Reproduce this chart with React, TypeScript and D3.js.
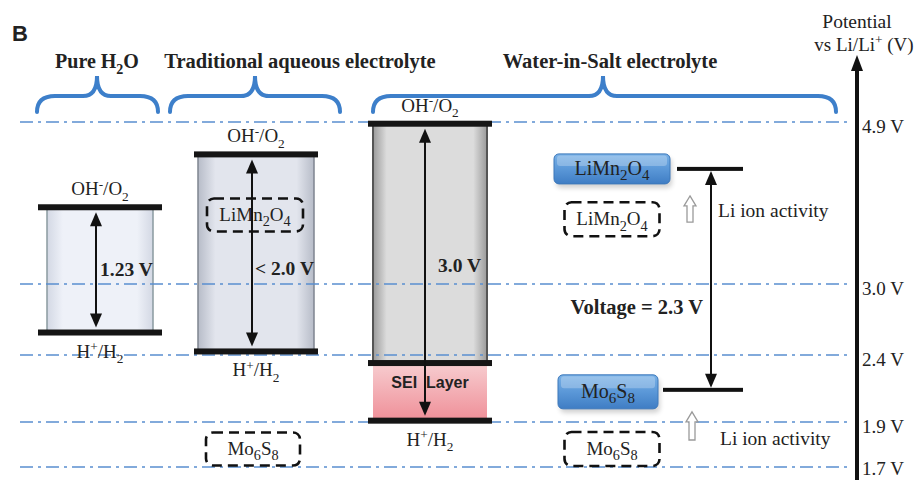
import React from "react";
import * as d3 from "d3";

// ---- data ----
const axisTicks = [4.9, 3.0, 2.4, 1.9, 1.7];
const axisTickLabels = ["4.9 V", "3.0 V", "2.4 V", "1.9 V", "1.7 V"];
const groupTitles = ["Pure H_2O", "Traditional aqueous electrolyte", "Water-in-Salt electrolyte"];
const windowTops = [3.9, 4.52, 4.88]; // OH-/O2 level (V)
const windowBottoms = [2.59, 2.43, 1.91]; // H+/H2 level (V)
const windowLabels = ["1.23 V", "< 2.0 V", "3.0 V"];
const seiTop = 2.34;
const cathodeLevel = 4.35; // LiMn2O4 in WiS
const anodeLevel = 2.14; // Mo6S8 in WiS
const cathodeOrigTrad = 3.81;
const cathodeOrigWis = 3.76;
const anodeOrig = 1.78;
const cellVoltageLabel = "Voltage = 2.3 V";

// ---- layout ----
const W = 916;
const H = 480;
const y = d3.scaleLinear().domain([1.7, 1.9, 2.4, 3.0, 4.9]).range([467, 422, 355, 284, 122]);
const colX = [100, 256, 430];
const boxHalf = [53, 58, 57];
const barHalf = [62, 62, 62];
const serif = "'Liberation Serif', 'Times New Roman', serif";
const sans = "'Liberation Sans', Arial, sans-serif";
const blueLine = "#5a8fd0";
const braceBlue = "#3d7fca";

function tokens(s: string) {
  const out: { t: string; k: "n" | "sub" | "sup" }[] = [];
  let i = 0;
  while (i < s.length) {
    const c = s[i];
    if (c === "_" || c === "^") {
      out.push({ t: s[i + 1], k: c === "_" ? "sub" : "sup" });
      i += 2;
    } else {
      if (out.length && out[out.length - 1].k === "n") out[out.length - 1].t += c;
      else out.push({ t: c, k: "n" });
      i++;
    }
  }
  return out;
}

function Chem({ s, x, yy, fs, anchor = "middle", weight = "normal", family = serif, sc = 0.72 }: any) {
  let shift = 0;
  const toks = tokens(s);
  return (
    <text x={x} y={yy} fontSize={fs} fontFamily={family} fontWeight={weight} textAnchor={anchor} fill="#222">
      {toks.map((tk, i) => {
        const target = tk.k === "sub" ? fs * 0.28 : tk.k === "sup" ? -fs * 0.35 : 0;
        const dy = target - shift;
        shift = target;
        return (
          <tspan key={i} dy={dy} fontSize={tk.k === "n" ? fs : fs * sc}>
            {tk.t}
          </tspan>
        );
      })}
    </text>
  );
}

function bracePath(x0: number, x1: number, xc: number) {
  const yb = 112, yh = 96, yt = 76;
  const p = d3.path();
  p.moveTo(x0, yb);
  p.quadraticCurveTo(x0, yh, x0 + 18, yh);
  p.lineTo(xc - 14, yh);
  p.quadraticCurveTo(xc, yh, xc, yt);
  p.quadraticCurveTo(xc, yh, xc + 14, yh);
  p.lineTo(x1 - 18, yh);
  p.quadraticCurveTo(x1, yh, x1, yb);
  return p.toString();
}

function DoubleArrow({ x, y1, y2, up = true, down = true }: any) {
  const hw = 6, hh = 14;
  return (
    <g>
      <line x1={x} x2={x} y1={y1 + (up ? hh - 2 : 0)} y2={y2 - (down ? hh - 2 : 0)} stroke="#111" strokeWidth={2} />
      {up && <path d={`M${x},${y1} L${x - hw},${y1 + hh} L${x + hw},${y1 + hh} Z`} fill="#111" />}
      {down && <path d={`M${x},${y2} L${x - hw},${y2 - hh} L${x + hw},${y2 - hh} Z`} fill="#111" />}
    </g>
  );
}

function HollowUp({ x, yTop, yBot }: any) {
  const sw = 3, hw = 6, hh = 10;
  return (
    <path
      d={`M${x},${yTop} L${x + hw},${yTop + hh} L${x + sw},${yTop + hh} L${x + sw},${yBot} L${x - sw},${yBot} L${x - sw},${yTop + hh} L${x - hw},${yTop + hh} Z`}
      fill="#fff"
      stroke="#9a9a9a"
      strokeWidth={1.3}
    />
  );
}

function DashedBox({ cx, cy, w, h, label }: any) {
  return (
    <g>
      <rect x={cx - w / 2} y={cy - h / 2} width={w} height={h} rx={7} fill="none" stroke="#111" strokeWidth={2.6} strokeDasharray="10,6" />
      <Chem s={label} x={cx} yy={cy + 6} fs={19} sc={0.75} />
    </g>
  );
}

function BlueBox({ cx, cy, w, h, label }: any) {
  return (
    <g>
      <rect x={cx - w / 2 + 2} y={cy - h / 2 + 4} width={w} height={h} rx={5} fill="#000" opacity={0.18} filter="url(#blur)" />
      <rect x={cx - w / 2} y={cy - h / 2} width={w} height={h} rx={5} fill="url(#blueGrad)" stroke="#3c78bb" strokeWidth={1} />
      <rect x={cx - w / 2 + 3} y={cy - h / 2 + 1.5} width={w - 6} height={h * 0.35} rx={3} fill="#fff" opacity={0.25} />
      <Chem s={label} x={cx} yy={cy + 6} fs={20} sc={0.75} />
    </g>
  );
}

export default function App() {
  const lineX0 = 20, lineX1 = 848;
  const axisX = 857;
  const wi = 2;
  return (
    <svg width={W} height={H} style={{ position: "absolute", left: 0, top: 0, background: "#fff" }}>
      <defs>
        <linearGradient id="g0" x1="0" x2="1" y1="0" y2="0">
          <stop offset="0" stopColor="#d3d8e4" />
          <stop offset="0.15" stopColor="#eef1f8" />
          <stop offset="0.85" stopColor="#eef1f8" />
          <stop offset="1" stopColor="#d3d8e4" />
        </linearGradient>
        <linearGradient id="g1" x1="0" x2="1" y1="0" y2="0">
          <stop offset="0" stopColor="#b7bcc8" />
          <stop offset="0.15" stopColor="#e2e5ed" />
          <stop offset="0.85" stopColor="#e2e5ed" />
          <stop offset="1" stopColor="#b7bcc8" />
        </linearGradient>
        <linearGradient id="g2" x1="0" x2="1" y1="0" y2="0">
          <stop offset="0" stopColor="#9a9a9a" />
          <stop offset="0.12" stopColor="#dcdcdc" />
          <stop offset="0.88" stopColor="#dcdcdc" />
          <stop offset="1" stopColor="#9a9a9a" />
        </linearGradient>
        <linearGradient id="sei" x1="0" x2="0" y1="0" y2="1">
          <stop offset="0" stopColor="#f7cdd0" />
          <stop offset="1" stopColor="#ef8f98" />
        </linearGradient>
        <linearGradient id="blueGrad" x1="0" x2="0" y1="0" y2="1">
          <stop offset="0" stopColor="#79b1e6" />
          <stop offset="0.5" stopColor="#5b98d8" />
          <stop offset="1" stopColor="#3f7dc4" />
        </linearGradient>
        <filter id="blur" x="-20%" y="-20%" width="140%" height="160%">
          <feGaussianBlur stdDeviation="2.5" />
        </filter>
      </defs>

      {/* panel letter */}
      <text x={12} y={41} fontFamily={sans} fontWeight="bold" fontSize={22} fill="#222">B</text>

      {/* group titles */}
      <Chem s={groupTitles[0]} x={97} yy={68} fs={20} weight="bold" sc={0.7} />
      <Chem s={groupTitles[1]} x={300} yy={68} fs={20.5} weight="bold" />
      <Chem s={groupTitles[2]} x={610} yy={68} fs={20.5} weight="bold" />

      {/* braces */}
      <g fill="none" stroke={braceBlue} strokeWidth={4} strokeLinecap="round">
        <path d={bracePath(37, 158, 97)} />
        <path d={bracePath(170, 340, 255)} />
        <path d={bracePath(373, 836, 603)} />
      </g>

      {/* stability windows */}
      {colX.map((cx, i) => {
        const top = y(windowTops[i]);
        const bot = y(i === wi ? seiTop : windowBottoms[i]);
        return (
          <rect key={"b" + i} x={cx - boxHalf[i]} y={top} width={boxHalf[i] * 2} height={bot - top}
            fill={`url(#g${i})`} stroke={i === 0 ? "#8a9aa0" : i === 1 ? "#7f8590" : "#555"} strokeWidth={i === 2 ? 2 : 1.5} />
        );
      })}
      {/* SEI layer */}
      <rect x={colX[wi] - boxHalf[wi]} y={y(seiTop)} width={boxHalf[wi] * 2} height={y(windowBottoms[wi]) - y(seiTop)} fill="url(#sei)" />

      {/* dash-dot reference lines */}
      {axisTicks.map((t, i) => (
        <line key={"l" + i} x1={lineX0} x2={lineX1} y1={y(t)} y2={y(t)} stroke={blueLine} strokeWidth={1.5} strokeDasharray="13,5,3,5" />
      ))}

      {/* level bars */}
      {colX.map((cx, i) => (
        <g key={"bars" + i}>
          <rect x={cx - barHalf[i]} y={y(windowTops[i]) - 3} width={barHalf[i] * 2} height={6} fill="#151515" />
          <rect x={cx - barHalf[i]} y={y(windowBottoms[i]) - 3} width={barHalf[i] * 2} height={6} fill="#151515" />
        </g>
      ))}
      <rect x={colX[wi] - barHalf[wi]} y={y(seiTop) - 3} width={barHalf[wi] * 2} height={6} fill="#151515" />

      {/* redox labels */}
      {colX.map((cx, i) => (
        <g key={"lab" + i}>
          <Chem s="OH^-/O_2" x={cx} yy={y(windowTops[i]) - 12} fs={19} sc={0.7} />
          <Chem s="H^+/H_2" x={cx} yy={y(windowBottoms[i]) + 25} fs={19} sc={0.7} />
        </g>
      ))}

      {/* dashed electrode boxes (traditional) */}
      <DashedBox cx={255} cy={y(cathodeOrigTrad)} w={96} h={33} label="LiMn_2O_4" />
      <DashedBox cx={253} cy={y(anodeOrig)} w={94} h={33} label="Mo_6S_8" />

      {/* window arrows */}
      <DoubleArrow x={96} y1={y(windowTops[0]) + 5} y2={y(windowBottoms[0]) - 5} />
      <DoubleArrow x={252} y1={y(windowTops[1]) + 5} y2={y(windowBottoms[1]) - 5} />
      <DoubleArrow x={425} y1={y(windowTops[2]) + 5} y2={y(windowBottoms[2]) - 5} />
      <text x={100} y={276} fontFamily={serif} fontWeight="bold" fontSize={19.5} fill="#222">{windowLabels[0]}</text>
      <text x={255} y={275} fontFamily={serif} fontWeight="bold" fontSize={19.5} fill="#222">{windowLabels[1]}</text>
      <text x={438} y={272} fontFamily={serif} fontWeight="bold" fontSize={19.5} fill="#222">{windowLabels[2]}</text>
      <text x={colX[wi]} y={y(2.2) + 6} fontFamily={sans} fontWeight="bold" fontSize={16} fill="#222" textAnchor="middle" xmlSpace="preserve">{"SEI  Layer"}</text>

      {/* WiS electrodes */}
      <BlueBox cx={612} cy={y(cathodeLevel) + 0} w={116} h={30} label="LiMn_2O_4" />
      <BlueBox cx={608} cy={y(anodeLevel) + 2} w={100} h={34} label="Mo_6S_8" />
      <DashedBox cx={612} cy={y(cathodeOrigWis)} w={95} h={34} label="LiMn_2O_4" />
      <DashedBox cx={612} cy={y(anodeOrig)} w={95} h={34} label="Mo_6S_8" />
      <rect x={677} y={y(cathodeLevel) - 2} width={66} height={4} fill="#111" />
      <rect x={663} y={y(anodeLevel) - 2} width={80} height={4} fill="#111" />
      <DoubleArrow x={711} y1={y(cathodeLevel) + 2} y2={y(anodeLevel) - 2} />
      <text x={703} y={314} fontFamily={serif} fontWeight="bold" fontSize={20.5} fill="#222" textAnchor="end">{cellVoltageLabel}</text>
      <HollowUp x={690} yTop={y(cathodeLevel) + 27} yBot={y(cathodeOrigWis) + 3} />
      <HollowUp x={692} yTop={y(anodeLevel) + 22} yBot={y(anodeOrig) - 9} />
      <text x={718} y={217} fontFamily={serif} fontSize={19.5} fill="#222">Li ion activity</text>
      <text x={720} y={445} fontFamily={serif} fontSize={19.5} fill="#222">Li ion activity</text>

      {/* potential axis */}
      <line x1={axisX} x2={axisX} y1={66} y2={H} stroke="#111" strokeWidth={4} />
      <path d={`M${axisX},55 L${axisX - 6},71 L${axisX + 6},71 Z`} fill="#111" />
      <text x={857} y={28} fontFamily={serif} fontSize={19.5} fill="#222" textAnchor="middle">Potential</text>
      <Chem s="vs Li/Li^+ (V)" x={864} yy={51} fs={19} sc={0.7} />
      {axisTicks.map((t, i) => (
        <text key={"t" + i} x={862} y={y(t) + (i === axisTicks.length - 1 ? 8 : 11)} fontFamily={serif} fontSize={19} fill="#222">{axisTickLabels[i]}</text>
      ))}
    </svg>
  );
}
